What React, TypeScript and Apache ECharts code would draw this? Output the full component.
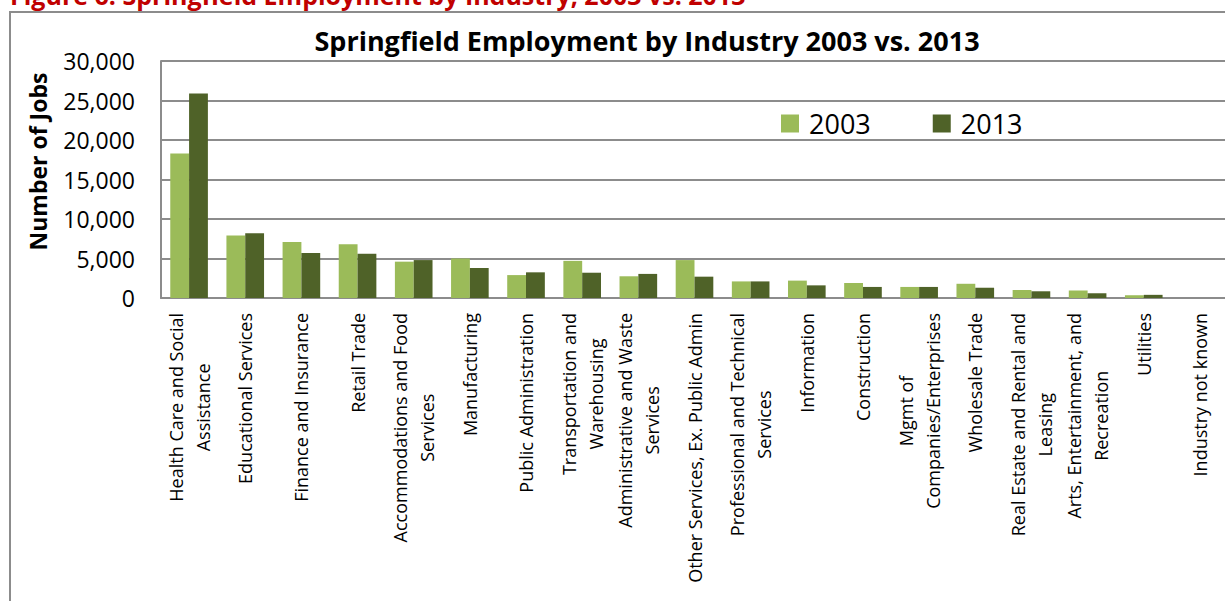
import React, { useEffect, useRef } from "react";
import * as echarts from "echarts";

const categories: string[] = [
  "Health Care and Social\nAssistance",
  "Educational Services",
  "Finance and Insurance",
  "Retail Trade",
  "Accommodations and Food\nServices",
  "Manufacturing",
  "Public Administration",
  "Transportation and\nWarehousing",
  "Administrative and Waste\nServices",
  "Other Services, Ex. Public Admin",
  "Professional and Technical\nServices",
  "Information",
  "Construction",
  "Mgmt of\nCompanies/Enterprises",
  "Wholesale Trade",
  "Real Estate and Rental and\nLeasing",
  "Arts, Entertainment, and\nRecreation",
  "Utilities",
  "Industry not known",
];

const values2003: number[] = [
  18300, 7900, 7100, 6800, 4600, 5000, 2900, 4700, 2750, 4800, 2100, 2200,
  1900, 1400, 1800, 1000, 950, 350, 0,
];

const values2013: number[] = [
  25900, 8200, 5700, 5600, 4800, 3800, 3250, 3200, 3050, 2700, 2100, 1600,
  1400, 1400, 1300, 850, 600, 400, 0,
];

const yTicks = { min: 0, max: 30000, interval: 5000 };

const chartTitle = "Springfield Employment by Industry 2003 vs. 2013";
const figureCaption = "Figure 6: Springfield Employment by Industry, 2003 vs. 2013";
const yAxisName = "Number of Jobs";
const seriesNames = ["2003", "2013"];

const FONT = "'Open Sans', sans-serif";

export default function App() {
  const ref = useRef<HTMLDivElement>(null);
  useEffect(() => {
    if (!ref.current) return;
    const chart = echarts.init(ref.current, null, { renderer: "svg" });
    chart.setOption({
      animation: false,
      backgroundColor: "#ffffff",
      textStyle: { fontFamily: FONT },
      title: {
        text: chartTitle,
        left: 642,
        textAlign: "center",
        top: 22,
        textStyle: { fontFamily: FONT, fontWeight: "bold", fontSize: 27, color: "#000" },
      },
      graphic: [
        {
          type: "rect",
          shape: { x: 10, y: 12, width: 1400, height: 800 },
          style: { fill: "none", stroke: "#8c8c8c", lineWidth: 2 },
          silent: true,
        },
        {
          type: "text",
          left: 10,
          top: -18,
          style: {
            text: figureCaption,
            fill: "#c00000",
            font: "bold 25px 'Open Sans', sans-serif",
          },
          silent: true,
        },
      ],
      legend: {
        left: 776,
        top: 105,
        icon: "rect",
        itemWidth: 18,
        itemHeight: 18,
        itemGap: 62,
        data: seriesNames,
        textStyle: { fontFamily: FONT, fontSize: 27, color: "#000", padding: [0, 0, 0, 5] },
      },
      grid: {
        left: 161,
        top: 61,
        width: 1067,
        height: 237,
        containLabel: false,
        outerBoundsMode: "none",
      },
      xAxis: {
        type: "category",
        data: categories,
        axisLine: { lineStyle: { color: "#8c8c8c", width: 2 } },
        axisTick: { show: false },
        axisLabel: {
          interval: 0,
          rotate: 90,
          margin: 15,
          formatter: (v: string) =>
            v
              .split("\n")
              .map((s) => "{c|" + s + "}")
              .join("\n"),
          rich: {
            c: {
              align: "center",
              fontFamily: FONT,
              fontSize: 18,
              lineHeight: 27,
              color: "#000",
            },
          },
        },
      },
      yAxis: {
        type: "value",
        min: yTicks.min,
        max: yTicks.max,
        interval: yTicks.interval,
        name: yAxisName,
        nameLocation: "middle",
        nameRotate: 90,
        nameGap: 112,
        nameTextStyle: {
          fontFamily: FONT,
          fontWeight: "bold",
          fontSize: 23,
          color: "#000",
          padding: [0, 0, 0, 36],
        },
        axisLine: { show: true, lineStyle: { color: "#8c8c8c", width: 2 } },
        axisTick: { show: false },
        splitLine: { lineStyle: { color: "#8c8c8c", width: 2 } },
        axisLabel: {
          margin: 26,
          fontFamily: FONT,
          fontSize: 23,
          color: "#000",
          formatter: (v: number) => v.toLocaleString("en-US"),
        },
      },
      series: [
        {
          name: seriesNames[0],
          type: "bar",
          data: values2003,
          barGap: "0%",
          barCategoryGap: "33%",
          itemStyle: { color: "#9bbb59" },
        },
        {
          name: seriesNames[1],
          type: "bar",
          data: values2013,
          barGap: "0%",
          barCategoryGap: "33%",
          itemStyle: { color: "#4f6228" },
        },
      ],
    });
    return () => chart.dispose();
  }, []);
  return (
    <div
      ref={ref}
      style={{ position: "fixed", left: 0, top: 0, width: 1225, height: 601 }}
    />
  );
}
